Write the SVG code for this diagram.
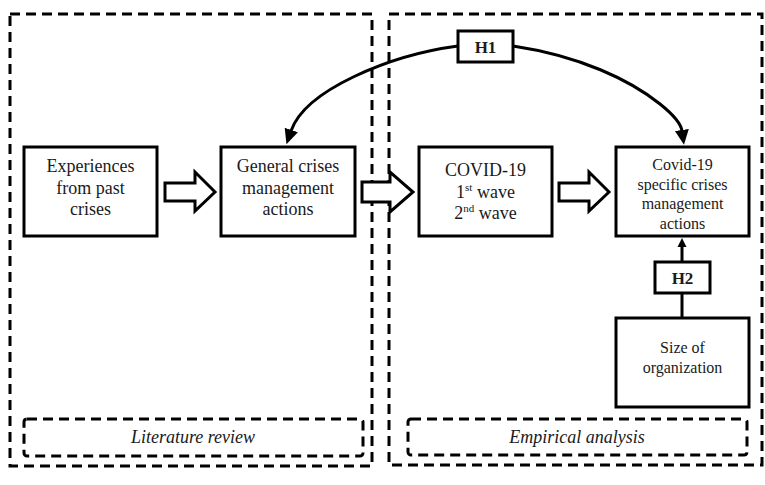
<svg xmlns="http://www.w3.org/2000/svg" width="765" height="485" viewBox="0 0 765 485">
<style>
.box{fill:#fff;stroke:#000;stroke-width:3}
.dash{fill:none;stroke:#000;stroke-width:3;stroke-dasharray:10 6}
.t{font-family:"Liberation Serif","Times New Roman",serif;font-size:18px;fill:#1a1a1a;text-anchor:middle}
.s{font-size:16px}
.i{font-style:italic}
.b{font-weight:bold;font-size:17px}
.con{fill:none;stroke:#000;stroke-width:3}
.blk{fill:#fff;stroke:#000;stroke-width:3;stroke-linejoin:miter}
</style>
<defs>
<marker id="ah" markerUnits="userSpaceOnUse" markerWidth="16" markerHeight="16" viewBox="0 0 16 16" refX="1" refY="8" orient="auto">
<path d="M0,1 L15,8 L0,15 Z" fill="#000"/>
</marker>
<marker id="ahs" markerUnits="userSpaceOnUse" markerWidth="10" markerHeight="10" viewBox="0 0 10 10" refX="1" refY="5" orient="auto">
<path d="M0,0.5 L9,5 L0,9.5 Z" fill="#000"/>
</marker>
</defs>

<g id="regions">
<rect class="dash" x="10" y="14" width="362" height="452"/>
<rect class="dash" x="389" y="14" width="373" height="451"/>
</g>

<g id="literature-review">
<rect class="dash" x="24" y="419" width="339" height="37" rx="3"/>
<text class="t i" x="193" y="443">Literature review</text>
</g>
<g id="empirical-analysis">
<rect class="dash" x="408" y="419" width="339" height="36" rx="3"/>
<text class="t i" x="577" y="443">Empirical analysis</text>
</g>

<g id="connectors">
<polygon class="blk" points="165,183 195,183 195,172 215,192 195,211 195,201 165,201"/>
<polygon class="blk" points="362,182 390,182 390,172 413,192 390,212 390,202 362,202"/>
<polygon class="blk" points="559,183 589,183 589,172 609,192 589,211 589,201 559,201"/>
<path class="con" d="M458,46 C390,55 305,90 291,131" marker-end="url(#ah)"/>
<path class="con" d="M513,46 C580,56 630,80 660,104 C672.5,114 681,124 682,131" marker-end="url(#ah)"/>
<line class="con" x1="682" y1="318" x2="682" y2="293"/>
<line class="con" x1="682" y1="262" x2="682" y2="246" marker-end="url(#ahs)"/>
</g>

<g id="experiences">
<rect class="box" x="24" y="147" width="133" height="89"/>
<text class="t" x="90.5" y="172">Experiences</text>
<text class="t" x="90.5" y="193.5">from past</text>
<text class="t" x="90.5" y="215">crises</text>
</g>

<g id="general">
<rect class="box" x="221" y="147" width="134" height="89"/>
<text class="t" x="288" y="172">General crises</text>
<text class="t" x="288" y="193.5">management</text>
<text class="t" x="288" y="215">actions</text>
</g>

<g id="covid">
<rect class="box" x="419" y="147" width="133" height="89"/>
<text class="t" x="485.5" y="176">COVID-19</text>
<text class="t" x="485.5" y="197.5">1<tspan font-size="11" dy="-7">st</tspan><tspan dy="7"> wave</tspan></text>
<text class="t" x="485.5" y="219">2<tspan font-size="11" dy="-7">nd</tspan><tspan dy="7"> wave</tspan></text>
</g>

<g id="covid-specific">
<rect class="box" x="616" y="147" width="133" height="89"/>
<text class="t s" x="682.5" y="170">Covid-19</text>
<text class="t s" x="682.5" y="189.5">specific crises</text>
<text class="t s" x="682.5" y="209">management</text>
<text class="t s" x="682.5" y="228.5">actions</text>
</g>

<g id="size">
<rect class="box" x="616" y="318" width="133" height="89"/>
<text class="t s" x="682.5" y="353">Size of</text>
<text class="t s" x="682.5" y="373">organization</text>
</g>

<g id="h1">
<rect class="box" x="458" y="31" width="55" height="31"/>
<text class="t b" x="485.5" y="53">H1</text>
</g>

<g id="h2">
<rect class="box" x="655" y="262" width="55" height="31"/>
<text class="t b" x="682.5" y="284">H2</text>
</g>
</svg>
